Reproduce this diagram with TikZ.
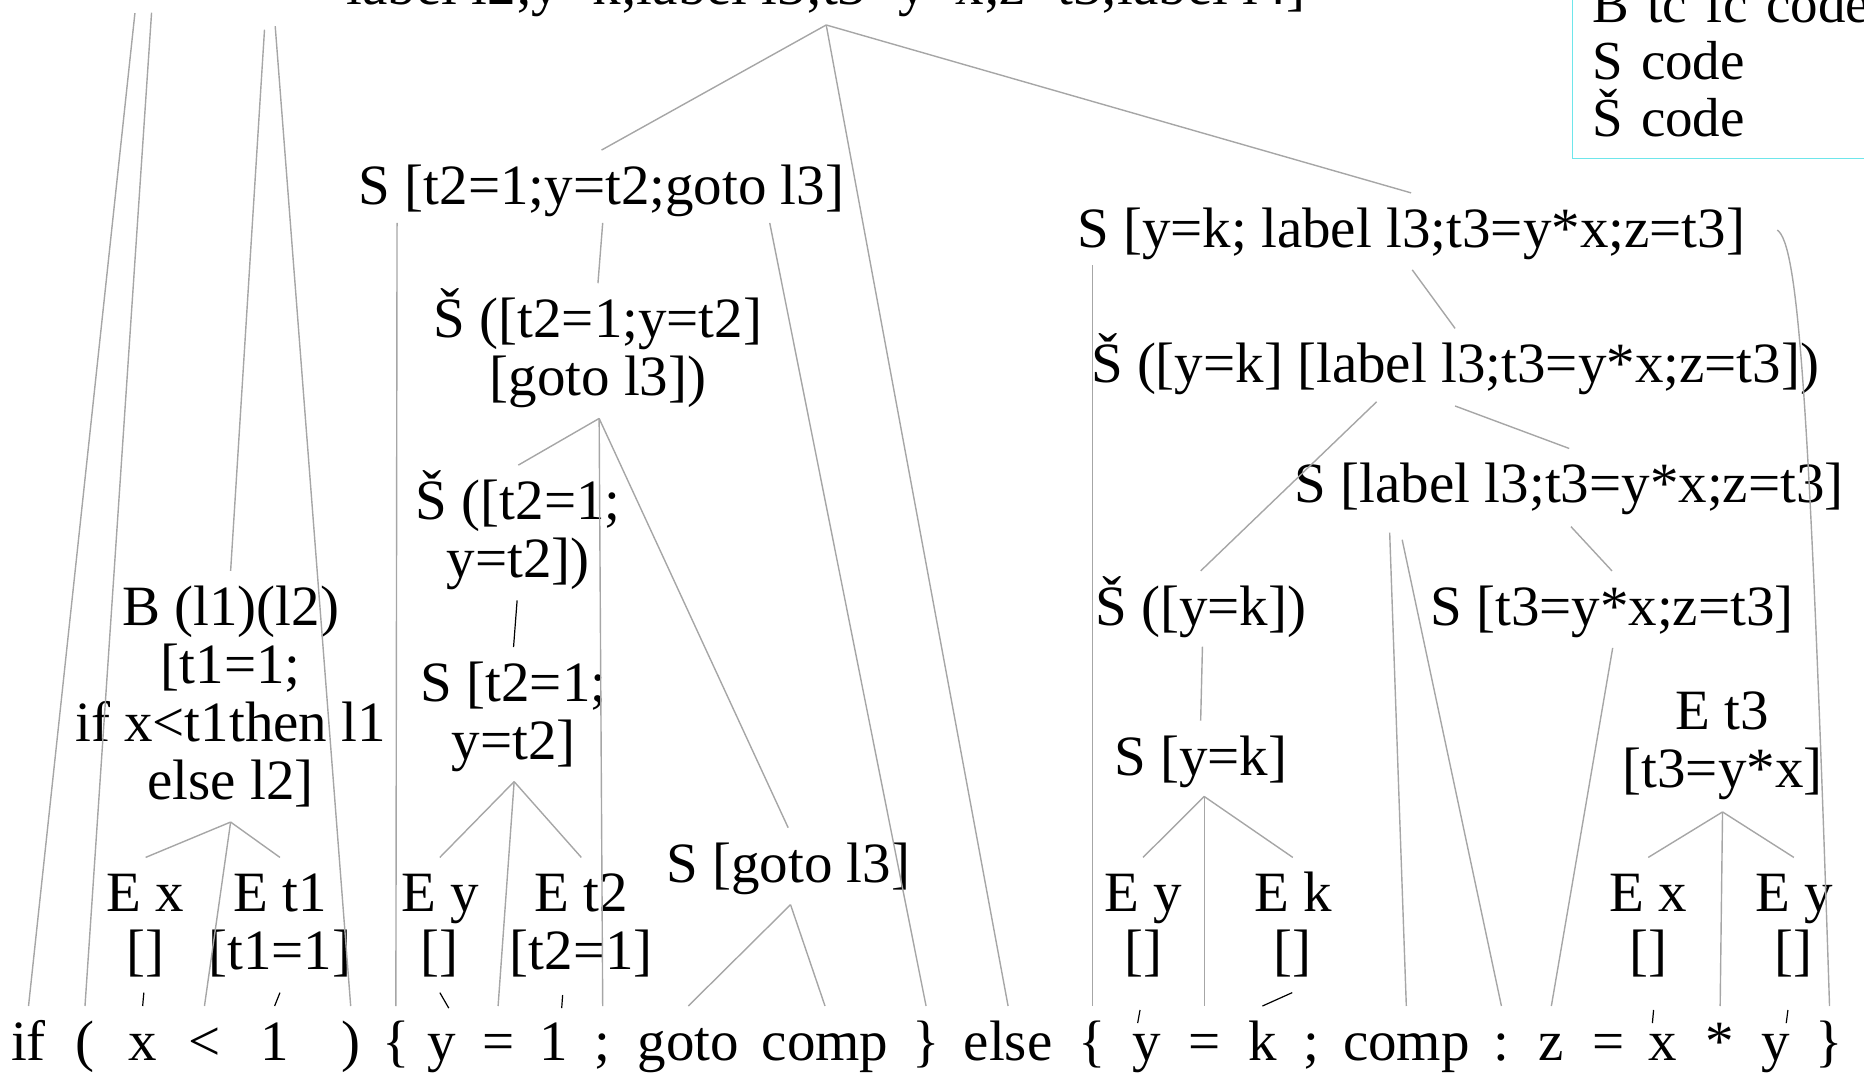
\documentclass[tikz,border=0pt]{standalone}
\usepackage{fontspec}
\setmainfont{Liberation Serif}
\definecolor{linegray}{HTML}{A6A6A6}
\definecolor{boxcyan}{HTML}{6EE6EB}
\newcommand{\nodestrut}{\rule{0pt}{20pt}}
\tikzset{
  tree/.style={font=\fontsize{28.5}{29}\selectfont, align=center, anchor=base,
    inner xsep=0pt, inner ysep=7pt, text height=20pt},
  mtree/.style={font=\fontsize{28.5}{29}\selectfont, align=center, anchor=base,
    inner xsep=0pt, inner ysep=7pt},
  tok/.style={font=\fontsize{28.5}{29}\selectfont, anchor=base,
    inner xsep=0pt, inner ysep=7pt, text height=20pt},
  edge/.style={draw=linegray, line width=0.7pt},
  tick/.style={draw=black, line width=0.6pt},
  legend/.style={draw=boxcyan, line width=0.6pt, font=\fontsize{27.5}{28.4}\selectfont,
    align=left, text width=180pt, inner xsep=10pt, inner ysep=11pt, anchor=south west}
}
\begin{document}
\begin{tikzpicture}[x=0.5944pt, y=-0.5944pt]
  \useasboundingbox (0,0) rectangle (1568,909);

  % legend box, cut by the page
  \node[legend] (key) at (1322,134) {B tc fc code\\S code\\Š code};

  % source tokens
  \node[tok] (if) at (24,892) {if};
  \node[tok] (lp) at (71.5,892) {(};
  \node[tok] (x1) at (120,892) {x};
  \node[tok] (lt) at (172,892) {<};
  \node[tok] (one1) at (231,892) {1};
  \node[tok] (rp) at (295,892) {)};
  \node[tok] (lb1) at (333,892) {\{};
  \node[tok] (y1) at (372,892) {y};
  \node[tok] (eq1) at (419,892) {=};
  \node[tok] (one2) at (466,892) {1};
  \node[tok] (semi1) at (507,892) {;};
  \node[tok] (goto) at (579,892) {goto};
  \node[tok] (comp1) at (694,892) {comp};
  \node[tok] (rb1) at (779,892) {\}};
  \node[tok] (else) at (848,892) {else};
  \node[tok] (lb2) at (919,892) {\{};
  \node[tok] (y2) at (965,892) {y};
  \node[tok] (eq2) at (1013,892) {=};
  \node[tok] (k) at (1062,892) {k};
  \node[tok] (semi2) at (1103,892) {;};
  \node[tok] (comp2) at (1183,892) {comp};
  \node[tok] (colon) at (1263,892) {:};
  \node[tok] (z) at (1305,892) {z};
  \node[tok] (eq3) at (1353,892) {=};
  \node[tok] (x2) at (1399,892) {x};
  \node[tok] (star) at (1447,892) {*};
  \node[tok] (y3) at (1494,892) {y};
  \node[tok] (rb2) at (1539,892) {\}};

  % tree nodes (multi-line ones sit on their last line)
  \node[tree] (top) at (695,4) {label l2;y=k;label l3;t3=y*x;z=t3;label l4]};
  \node[tree] (sA) at (506,172) {S [t2=1;y=t2;goto l3]};
  \node[mtree] (sB) at (503,332.8) {\nodestrut\smash{Š} ([t2=1;y=t2]\\{}[goto l3])};
  \node[mtree] (sC) at (436,485.8) {\nodestrut\smash{Š} ([t2=1;\\y=t2])};
  \node[mtree] (sD) at (432,638.8) {\nodestrut S [t2=1;\\y=t2]};
  \node[mtree] (ey1) at (370,815.8) {\nodestrut E y\\{}[]};
  \node[mtree] (et2) at (489,815.8) {\nodestrut E t2\\{}[t2=1]};
  \node[tree] (sGoto) at (663,742) {S [goto l3]};
  \node[mtree] (B) at (194,672.4) {\nodestrut B (l1)(l2)\\{}[t1=1;\\if x<t1then l1\\else l2]};
  \node[mtree] (ex1) at (122.5,815.8) {\nodestrut E x\\{}[]};
  \node[mtree] (et1) at (235.5,815.8) {\nodestrut E t1\\{}[t1=1]};
  \node[tree] (sE) at (1187,208) {S [y=k; label l3;t3=y*x;z=t3]};
  \node[tree] (sF) at (1224,322) {Š ([y=k] [label l3;t3=y*x;z=t3])};
  \node[tree] (sG) at (1320,423) {S [label l3;t3=y*x;z=t3]};
  \node[tree] (sH) at (1010,526) {Š ([y=k])};
  \node[tree] (sI) at (1356,526) {S [t3=y*x;z=t3]};
  \node[tree] (sJ) at (1010,652) {S [y=k]};
  \node[mtree] (ey3) at (961.5,815.8) {\nodestrut E y\\{}[]};
  \node[mtree] (ek) at (1087.5,815.8) {\nodestrut E k\\{}[]};
  \node[mtree] (sK) at (1449,662.8) {\nodestrut E t3\\{}[t3=y*x]};
  \node[mtree] (ex2) at (1386.5,815.8) {\nodestrut E x\\{}[]};
  \node[mtree] (ey4) at (1509,815.8) {\nodestrut E y\\{}[]};

  % fork points under the nodes
  \coordinate (top-a) at (113.5,11);
  \coordinate (top-b) at (127.5,10.7);
  \coordinate (top-c) at (222.5,25);
  \coordinate (top-d) at (231.5,22);
  \coordinate (top-f) at (695,21);
  \coordinate (sA-l) at (334,187.5);
  \coordinate (sA-m) at (507,187.5);
  \coordinate (sA-r) at (647.5,187.5);
  \coordinate (sB-f) at (504,352);
  \coordinate (sC-f) at (435,505);
  \coordinate (sD-f) at (432.5,657.5);
  \coordinate (B-f) at (194,691.5);
  \coordinate (sGoto-f) at (665,761);
  \coordinate (sE-l) at (919,223);
  \coordinate (sE-m) at (1188,227);
  \coordinate (sE-r) at (1495,193.5);
  \coordinate (sF-l) at (1158,338);
  \coordinate (sF-r) at (1224,341.5);
  \coordinate (sG-a) at (1169,448);
  \coordinate (sG-b) at (1179.5,454);
  \coordinate (sG-c) at (1321.5,443);
  \coordinate (sH-f) at (1011.5,544);
  \coordinate (sI-f) at (1356.6,545);
  \coordinate (sJ-f) at (1013,670);
  \coordinate (sK-f) at (1449,683);

  % ends of the short leaf ticks
  \coordinate (ex1-b) at (121,835);
  \coordinate (et1-b) at (235.5,835);
  \coordinate (ey1-b) at (370,835);
  \coordinate (ey1-e) at (377.5,848);
  \coordinate (et2-b) at (473.3,837);
  \coordinate (et2-e) at (472.5,848);
  \coordinate (ey3-b) at (959,849.6);
  \coordinate (ey3-e) at (957,860.6);
  \coordinate (ek-b) at (1087,835);
  \coordinate (ex2-b) at (1391,849.6);
  \coordinate (ex2-e) at (1390,860.6);
  \coordinate (ey4-b) at (1504,849.6);
  \coordinate (ey4-e) at (1502.6,860.6);

  % top node
  \draw[edge] (top-a) -- (if.north);
  \draw[edge] (top-b) -- (lp.north);
  \draw[edge] (top-c) -- (B.north);
  \draw[edge] (top-d) -- (rp.north);
  \draw[edge] (top-f) -- (sA.north);
  \draw[edge] (top-f) -- (else.north);
  \draw[edge] (top-f) -- (sE.north);

  % then branch
  \draw[edge] (sA-l) -- (lb1.north);
  \draw[edge] (sA-m) -- (sB.north);
  \draw[edge] (sA-r) -- (rb1.north);
  \draw[edge] (sB-f) -- (sC.north);
  \draw[edge] (sB-f) -- (semi1.north);
  \draw[edge] (sB-f) -- (sGoto.north);
  \draw[tick] (sC-f) -- (sD.north);
  \draw[edge] (sD-f) -- (ey1.north);
  \draw[edge] (sD-f) -- (eq1.north);
  \draw[edge] (sD-f) -- (et2.north);
  \draw[edge] (sGoto-f) -- (goto.north);
  \draw[edge] (sGoto-f) -- (comp1.north);

  % condition
  \draw[edge] (B-f) -- (ex1.north);
  \draw[edge] (B-f) -- (lt.north);
  \draw[edge] (B-f) -- (et1.north);

  % else branch
  \draw[edge] (sE-l) -- (lb2.north);
  \draw[edge] (sE-m) -- (sF.north);
  \draw[edge] (sE-r) .. controls (1512,205) and (1522,320) .. (rb2.north);
  \draw[edge] (sF-l) -- (sH.north);
  \draw[edge] (sF-r) -- (sG.north);
  \draw[edge] (sG-a) -- (comp2.north);
  \draw[edge] (sG-b) -- (colon.north);
  \draw[edge] (sG-c) -- (sI.north);
  \draw[edge] (sH-f) -- (sJ.north);
  \draw[edge] (sI-f) -- (z.north);
  \draw[edge] (sJ-f) -- (ey3.north);
  \draw[edge] (sJ-f) -- (eq2.north);
  \draw[edge] (sJ-f) -- (ek.north);
  \draw[edge] (sK-f) -- (ex2.north);
  \draw[edge] (sK-f) -- (star.north);
  \draw[edge] (sK-f) -- (ey4.north);

  % leaf ticks
  \draw[tick] (ex1-b) -- (x1.north);
  \draw[tick] (et1-b) -- (one1.north);
  \draw[tick] (ey1-b) -- (ey1-e);
  \draw[tick] (et2-b) -- (et2-e);
  \draw[tick] (ey3-b) -- (ey3-e);
  \draw[tick] (ek-b) -- (k.north);
  \draw[tick] (ex2-b) -- (ex2-e);
  \draw[tick] (ey4-b) -- (ey4-e);
\end{tikzpicture}
\end{document}
